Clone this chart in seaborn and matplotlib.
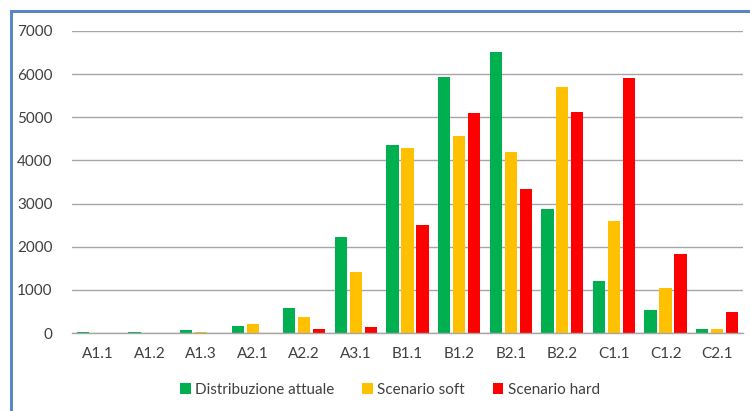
import matplotlib
matplotlib.use("Agg")
import matplotlib.pyplot as plt
import seaborn as sns
import pandas as pd
from matplotlib.patches import Rectangle

categories = ["A1.1", "A1.2", "A1.3", "A2.1", "A2.2", "A3.1", "B1.1",
              "B1.2", "B2.1", "B2.2", "C1.1", "C1.2", "C2.1"]
distribuzione_attuale = [30, 25, 80, 170, 580, 2230, 4360, 5925, 6520, 2875, 1205, 525, 95]
scenario_soft = [0, 0, 20, 220, 380, 1420, 4290, 4575, 4195, 5710, 2590, 1045, 95]
scenario_hard = [0, 0, 0, 0, 100, 130, 2510, 5090, 3340, 5125, 5905, 1825, 495]
series_names = ["Distribuzione attuale", "Scenario soft", "Scenario hard"]
colors = ["#00B050", "#FFC000", "#FF0000"]
yticks = [0, 1000, 2000, 3000, 4000, 5000, 6000, 7000]

rows = []
for name, vals in zip(series_names, [distribuzione_attuale, scenario_soft, scenario_hard]):
    for c, v in zip(categories, vals):
        rows.append({"cat": c, "serie": name, "val": v})
df = pd.DataFrame(rows)

sns.set_style("white")
plt.rcParams["font.family"] = ["Lato", "DejaVu Sans"]

fig = plt.figure(figsize=(7.5, 4.11), dpi=100)
ax = fig.add_axes([72/750, 1-333/411, (743-72)/750, (333-31)/411])

sns.barplot(data=df, x="cat", y="val", hue="serie", order=categories,
            hue_order=series_names, palette=colors, width=0.87, gap=0.18,
            saturation=1, linewidth=0, ax=ax, legend=True)

ax.set_ylim(0, 7000)
ax.set_yticks(yticks)
ax.set_yticklabels([str(t) for t in yticks])
ax.set_xlim(-0.5, len(categories) - 0.5)
ax.set_xlabel("")
ax.set_ylabel("")
ax.yaxis.grid(True, color="#A6A6A6", linewidth=1)
ax.set_axisbelow(True)
for s in ["top", "right", "left"]:
    ax.spines[s].set_visible(False)
ax.spines["bottom"].set_color("#A6A6A6")
ax.spines["bottom"].set_linewidth(1)
ax.tick_params(axis="both", length=0, labelsize=11, labelcolor="#404040")
ax.tick_params(axis="y", pad=14)
ax.tick_params(axis="x", pad=10)

leg = ax.legend(loc="center", bbox_to_anchor=(0.52, 1-390/411), bbox_transform=fig.transFigure,
                ncol=3, frameon=False, fontsize=11, handlelength=0.7, handleheight=0.7,
                handletextpad=0.3, columnspacing=1.8)
for t in leg.get_texts():
    t.set_color("#404040")

fig.patches.append(Rectangle((11/750, -0.1), 1.2, 1-11/411+0.1, transform=fig.transFigure,
                             fill=False, edgecolor="#5B86C5", linewidth=2.2, zorder=10))

fig.savefig("out.png", dpi=100)
